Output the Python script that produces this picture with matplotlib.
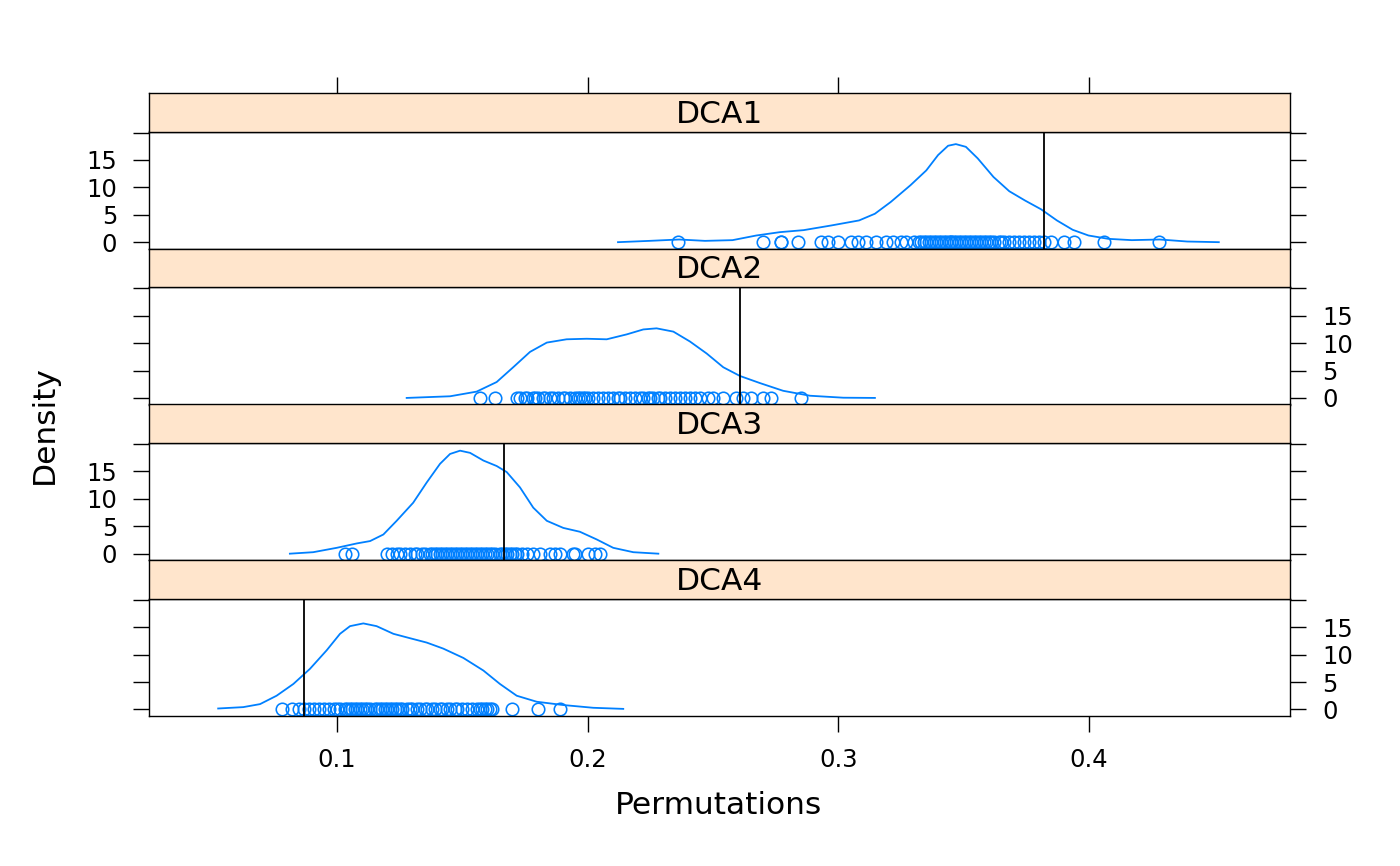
import numpy as np
import matplotlib
matplotlib.use("Agg")
from matplotlib import pyplot as plt

W, H = 1400, 866

panels = ["DCA1", "DCA2", "DCA3", "DCA4"]
observed = [0.382, 0.2608, 0.1666, 0.0868]

# density curves (x, density)
dens1_x = [0.2121, 0.2247, 0.2365, 0.2468, 0.2578, 0.2673, 0.2767, 0.2862, 0.2972, 0.3083,
           0.3146, 0.3209, 0.3288, 0.3351, 0.3398, 0.3438, 0.3469, 0.3509, 0.3556, 0.3619,
           0.3682, 0.3745, 0.3809, 0.3872, 0.3935, 0.3998, 0.4077, 0.4171, 0.4282, 0.4392,
           0.4518]
dens1_y = [0.0, 0.24, 0.49, 0.24, 0.37, 1.22, 1.83, 2.2, 3.05, 3.97,
           5.19, 7.33, 10.4, 13.1, 15.9, 17.6, 17.9, 17.4, 15.3, 11.9,
           9.3, 7.6, 6.0, 3.97, 2.26, 1.22, 0.61, 0.37, 0.49, 0.12,
           0.0]

dens2_x = [0.1278, 0.1451, 0.1557, 0.1637, 0.1703, 0.1770, 0.1837, 0.1916, 0.1996, 0.2076,
           0.2156, 0.2222, 0.2275, 0.2342, 0.2408, 0.2475, 0.2541, 0.2608, 0.2688, 0.2780,
           0.2887, 0.3020, 0.3146]
dens2_y = [0.0, 0.3, 1.15, 2.9, 5.6, 8.4, 10.1, 10.7, 10.8, 10.7,
           11.6, 12.5, 12.7, 12.1, 10.3, 8.1, 5.6, 4.0, 2.7, 1.3,
           0.4, 0.04, 0.0]

dens3_x = [0.0812, 0.0905, 0.0999, 0.1079, 0.1132, 0.1185, 0.1238, 0.1304, 0.1358, 0.1411,
           0.1451, 0.1491, 0.1531, 0.1584, 0.1637, 0.1677, 0.1730, 0.1783, 0.1837, 0.1903,
           0.1969, 0.2036, 0.2102, 0.2182, 0.2282]
dens3_y = [0.0, 0.27, 1.07, 1.87, 2.3, 3.5, 6.0, 9.3, 13.0, 16.4,
           18.2, 18.8, 18.4, 17.0, 16.0, 14.9, 12.1, 8.4, 6.0, 4.7,
           4.0, 2.6, 1.07, 0.27, 0.0]

dens4_x = [0.0526, 0.0626, 0.0693, 0.0759, 0.0826, 0.0892, 0.0959, 0.1012, 0.1052, 0.1105,
           0.1158, 0.1225, 0.1291, 0.1358, 0.1424, 0.1504, 0.1584, 0.1650, 0.1717, 0.1797,
           0.1903, 0.2022, 0.2142]
dens4_y = [0.17, 0.42, 0.97, 2.5, 4.65, 7.4, 10.8, 13.8, 15.2, 15.7,
           15.2, 13.8, 13.0, 12.2, 11.1, 9.4, 7.1, 4.65, 2.5, 1.4,
           0.8, 0.3, 0.1]

# permutation values (rug points)
perm1 = [0.236, 0.270, 0.277, 0.277, 0.284, 0.293, 0.296, 0.300, 0.305, 0.308, 0.311, 0.315,
         0.319, 0.322, 0.325, 0.327, 0.330, 0.332, 0.333, 0.334, 0.335, 0.336, 0.337, 0.338,
         0.339, 0.340, 0.341, 0.342, 0.343, 0.344, 0.345, 0.345, 0.346, 0.347, 0.348, 0.349,
         0.350, 0.351, 0.352, 0.353, 0.354, 0.355, 0.356, 0.357, 0.358, 0.359, 0.360, 0.361,
         0.362, 0.364, 0.365, 0.366, 0.368, 0.370, 0.372, 0.374, 0.376, 0.378, 0.380, 0.382,
         0.385, 0.390, 0.394, 0.406, 0.428]
perm2 = [0.157, 0.163, 0.172, 0.173, 0.175, 0.176, 0.178, 0.179, 0.180, 0.182, 0.183, 0.185,
         0.186, 0.188, 0.190, 0.191, 0.193, 0.195, 0.196, 0.197, 0.198, 0.199, 0.200, 0.202,
         0.204, 0.206, 0.208, 0.210, 0.212, 0.213, 0.215, 0.217, 0.219, 0.221, 0.222, 0.224,
         0.225, 0.226, 0.228, 0.229, 0.231, 0.233, 0.235, 0.237, 0.239, 0.241, 0.243, 0.245,
         0.248, 0.250, 0.254, 0.259, 0.262, 0.265, 0.270, 0.273, 0.285]
perm3 = [0.103, 0.106, 0.120, 0.122, 0.124, 0.125, 0.127, 0.129, 0.131, 0.132, 0.134, 0.135,
         0.137, 0.138, 0.139, 0.140, 0.141, 0.142, 0.143, 0.144, 0.145, 0.146, 0.147, 0.148,
         0.149, 0.150, 0.151, 0.152, 0.153, 0.154, 0.155, 0.156, 0.157, 0.158, 0.159, 0.160,
         0.161, 0.162, 0.163, 0.165, 0.166, 0.167, 0.168, 0.169, 0.170, 0.171, 0.172, 0.174,
         0.176, 0.178, 0.181, 0.185, 0.187, 0.189, 0.194, 0.195, 0.200, 0.203, 0.205]
perm4 = [0.078, 0.082, 0.085, 0.087, 0.089, 0.091, 0.093, 0.095, 0.097, 0.099, 0.100, 0.101,
         0.103, 0.104, 0.105, 0.106, 0.107, 0.108, 0.109, 0.110, 0.111, 0.112, 0.113, 0.115,
         0.116, 0.117, 0.118, 0.119, 0.120, 0.121, 0.122, 0.123, 0.124, 0.125, 0.126, 0.128,
         0.129, 0.130, 0.132, 0.133, 0.135, 0.136, 0.138, 0.139, 0.141, 0.142, 0.144, 0.145,
         0.147, 0.148, 0.150, 0.152, 0.154, 0.156, 0.157, 0.158, 0.159, 0.160, 0.161, 0.162,
         0.170, 0.180, 0.189]

dens_x = [dens1_x, dens2_x, dens3_x, dens4_x]
dens_y = [dens1_y, dens2_y, dens3_y, dens4_y]
perms = [perm1, perm2, perm3, perm4]

x_ticks = [0.1, 0.2, 0.3, 0.4]
y_ticks = [0, 5, 10, 15, 20]
y_labels = ["0", "5", "10", "15", ""]

BLUE = "#0080ff"
STRIP = "#ffe5cc"
XLIM = (0.025, 0.4802)
YLIM = (-1.2, 20.2)

fig = plt.figure(figsize=(W / 100, H / 100), dpi=100)


def box(x0, y0, x1, y1):
    # pixel box (top-left origin) -> figure fraction rect
    return [x0 / W, 1 - y1 / H, (x1 - x0) / W, (y1 - y0) / H]


left_px, right_px = 149, 1290
step = 155.75
tick_kw = dict(direction="out", length=11.5, width=1.0, pad=11.5, labelsize=17.5)

for i, name in enumerate(panels):
    strip_top = 93 + step * i
    plot_top = strip_top + 38.5
    plot_bot = strip_top + step

    ax = fig.add_axes(box(left_px, plot_top, right_px, plot_bot))
    ax.plot(dens_x[i], dens_y[i], color=BLUE, lw=1.3, solid_joinstyle="round")
    ax.plot(perms[i], np.zeros(len(perms[i])), "o", mfc="none", mec=BLUE, ms=9, mew=1.15)
    ax.axvline(observed[i], color="black", lw=1.3)
    ax.set_xlim(XLIM)
    ax.set_ylim(YLIM)
    ax.set_yticks(y_ticks)
    ax.set_yticklabels(y_labels)
    ax.set_xticks(x_ticks)
    ax.set_xticklabels([str(t) for t in x_ticks])
    for sp in ax.spines.values():
        sp.set_linewidth(1.0)
    ax.tick_params(axis="y", left=True, right=True,
                   labelleft=(i % 2 == 0), labelright=(i % 2 == 1), **tick_kw)
    last = i == len(panels) - 1
    ax.tick_params(axis="x", bottom=last, top=False, labelbottom=last, labeltop=False, **tick_kw)

    sx = fig.add_axes(box(left_px, strip_top, right_px, plot_top))
    sx.set_facecolor(STRIP)
    sx.set_xlim(XLIM)
    sx.set_yticks([])
    sx.set_xticks(x_ticks)
    for sp in sx.spines.values():
        sp.set_linewidth(1.0)
    sx.tick_params(axis="x", bottom=False, labelbottom=False, top=(i == 0), labeltop=False, **tick_kw)
    sx.text(0.5, 0.45, name, transform=sx.transAxes, ha="center", va="center", fontsize=22.5)

fig.text(44 / W, 1 - 425 / H, "Density", rotation=90, ha="center", va="center", fontsize=22.5)
fig.text(719 / W, 1 - 806 / H, "Permutations", ha="center", va="center", fontsize=22.5)

fig.savefig("out.png", dpi=100)
